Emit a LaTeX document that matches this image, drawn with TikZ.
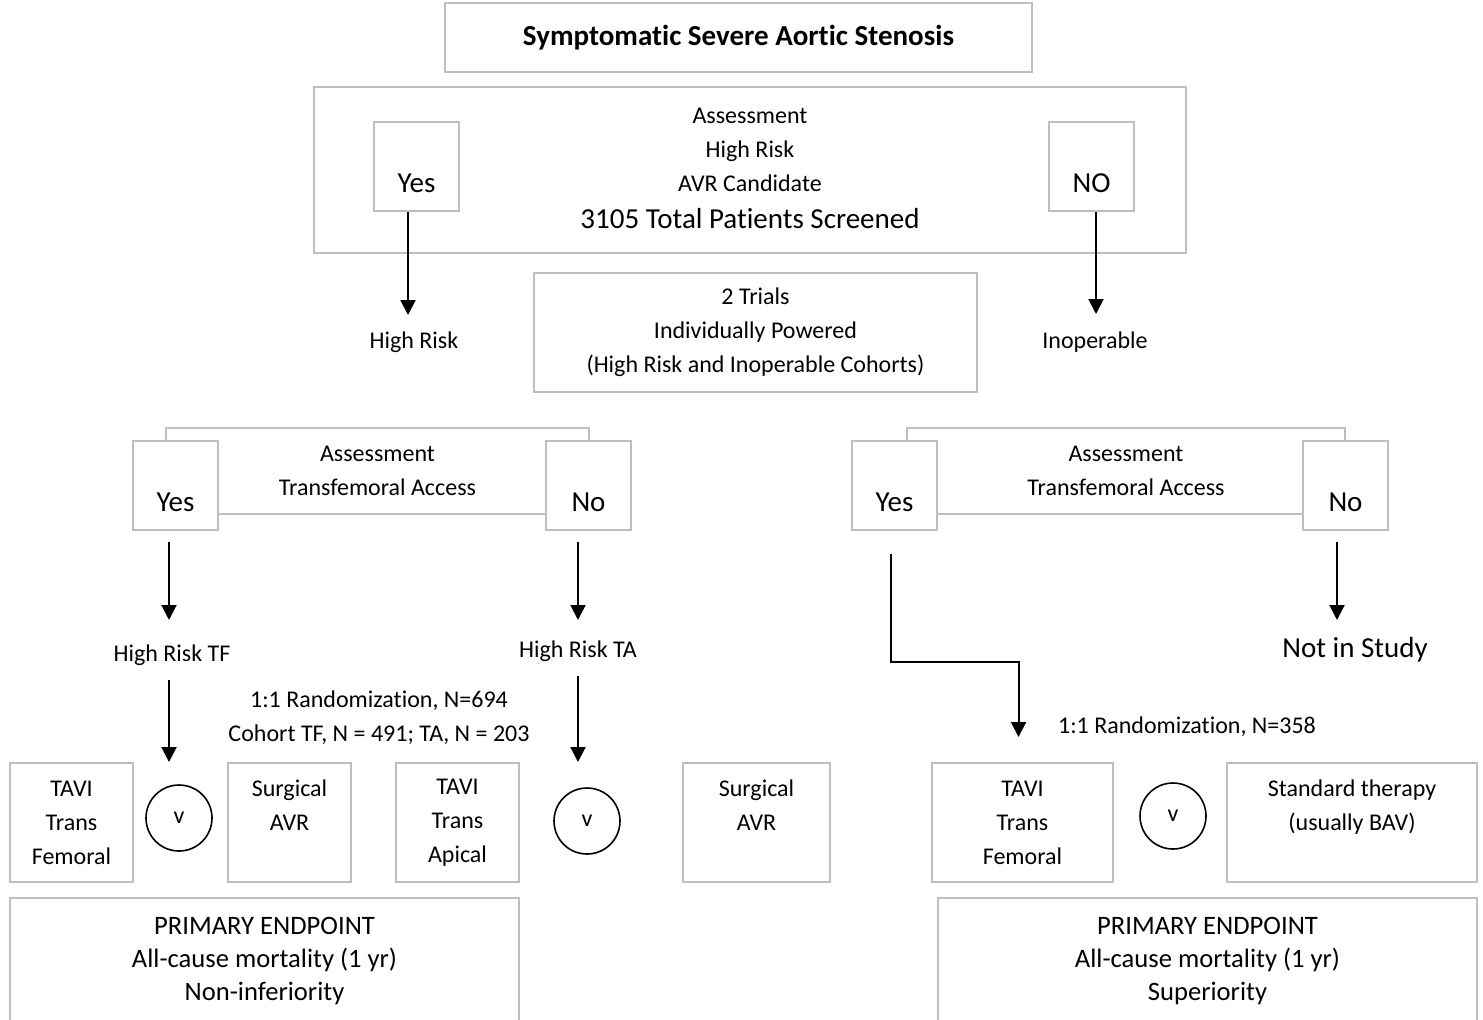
\documentclass[tikz,border=0pt]{standalone}
\usepackage{fontspec}
\setmainfont{Carlito}[Ligatures=NoCommon]
\usetikzlibrary{arrows.meta}
\definecolor{boxgray}{HTML}{BFBFBF}

\begin{document}
\begin{tikzpicture}[x=0.5pt,y=-0.5pt,
  box/.style={draw=boxgray, line width=1pt, fill=white, align=center, inner sep=0pt, font=\fontsize{12}{17}\selectfont},
  yn/.style={box, minimum width=42.5pt, minimum height=44.5pt, font=\fontsize{14.5}{17}\selectfont},
  arm/.style={box, minimum height=59.5pt},
  endpt/.style={box, minimum height=63pt, font=\fontsize{13.3}{16.5}\selectfont},
  frm/.style={box, fill=none, minimum height=43pt},
  vs/.style={circle, draw, line width=0.8pt, minimum size=33pt, inner sep=0pt, font=\fontsize{12}{14}\selectfont},
  lbl/.style={inner sep=0pt, align=center, font=\fontsize{12}{17}\selectfont},
  arr/.style={-{Triangle[width=7.5pt,length=7.5pt]}, line width=1pt}]

\useasboundingbox (0,0) rectangle (1483,1019);
\clip (0,0) rectangle (1483,1019);

% screening
\node[box, minimum width=293.5pt, minimum height=34.5pt, font=\fontsize{14.5}{17}\selectfont\bfseries] (title) at (738.5,37.5) {Symptomatic Severe Aortic Stenosis};
\node[box, minimum width=436pt, minimum height=83pt] (assess) at (750,170) {Assessment\\High Risk\\AVR Candidate\\[1.5pt]{\fontsize{14.5}{17}\selectfont 3105 Total Patients Screened\vphantom{(}}};
\node[yn] (yesA) at (416.5,166.5) {\phantom{Y}\\Yes};
\node[yn] (noA) at (1091.5,166.5) {\phantom{N}\\NO};
\node[lbl] (hrisk) at (414,342) {High Risk};
\node[lbl] (inop) at (1095,342) {Inoperable};
\node[box, minimum width=221.5pt, minimum height=59.5pt] (trials) at (755.5,332.5) {2 Trials\\Individually Powered\\(High Risk and Inoperable Cohorts)};

% high risk cohort
\node[frm, minimum width=211.5pt] (accL) at (377.5,471) {Assessment\\Transfemoral Access};
\node[yn] (yesL) at (175.5,485.5) {\phantom{Y}\\Yes};
\node[yn] (noL) at (588.5,485.5) {\phantom{N}\\No};
\node[lbl] (hrtf) at (172,655) {High Risk TF};
\node[lbl] (hrta) at (578,651) {High Risk TA};
\node[lbl] (randL) at (379,718) {1:1 Randomization, N=694\\Cohort TF, N = 491; TA, N = 203};
\node[arm, minimum width=61.5pt] (tavitfL) at (71.5,822.5) {TAVI\\Trans\\Femoral};
\node[vs] (vsA) at (179,818) {v};
\node[arm, minimum width=61.5pt] (surgL) at (289.5,822.5) {Surgical\\AVR\\\phantom{A}};
\node[arm, minimum width=61.5pt] (tavitaL) at (457.5,822.5) {TAVI\\Trans\\Apical};
\node[vs] (vsB) at (587,821) {v};
\node[arm, minimum width=73.5pt] (surgR) at (756.5,822.5) {Surgical\\AVR\\\phantom{A}};
\node[endpt, minimum width=254.5pt] (endL) at (264.5,961) {PRIMARY ENDPOINT\\All-cause mortality (1 yr)\\Non-inferiority};

% inoperable cohort
\node[frm, minimum width=219pt] (accR) at (1126,471) {Assessment\\Transfemoral Access};
\node[yn] (yesR) at (894.5,485.5) {\phantom{Y}\\Yes};
\node[yn] (noR) at (1345.5,485.5) {\phantom{N}\\No};
\node[lbl, font=\fontsize{14.5}{17}\selectfont] (notin) at (1355,650) {Not in Study};
\node[lbl] (randR) at (1187,727) {1:1 Randomization, N=358};
\node[arm, minimum width=90.5pt] (tavitfR) at (1022.5,822.5) {TAVI\\Trans\\Femoral};
\node[vs] (vsC) at (1173,816) {v};
\node[arm, minimum width=125pt] (stdR) at (1352,822.5) {Standard therapy\\(usually BAV)\\\phantom{A}};
\node[endpt, minimum width=269.5pt] (endR) at (1207.5,961) {PRIMARY ENDPOINT\\All-cause mortality (1 yr)\\Superiority};

% arrows
\coordinate (yesAtip) at (408,315);
\coordinate (noAtip) at (1096,314);
\draw[arr] (yesA.south -| yesAtip) -- (yesAtip);
\draw[arr] (noA.south -| noAtip) -- (noAtip);

\coordinate (yesLtip) at (169,620);
\coordinate (noLtip) at (578,620);
\draw[arr, shorten <=5.5pt] (yesL.south -| yesLtip) -- (yesLtip);
\draw[arr, shorten <=5.5pt] (noL.south -| noLtip) -- (noLtip);
\draw[arr, shorten <=7pt] (hrtf.south -| yesLtip) -- (yesLtip |- tavitfL.north);
\draw[arr, shorten <=7pt] (hrta.south -| noLtip) -- (noLtip |- tavitaL.north);

\coordinate (noRtip) at (1337,620);
\coordinate (yesRbend) at (891,662);
\draw[arr, shorten <=5.5pt] (noR.south -| noRtip) -- (noRtip);
\draw[arr, shorten <=11.5pt] (yesR.south -| yesRbend) -- (yesRbend) -| ([xshift=-2pt,yshift=12.5pt]tavitfR.north);
\end{tikzpicture}
\end{document}
